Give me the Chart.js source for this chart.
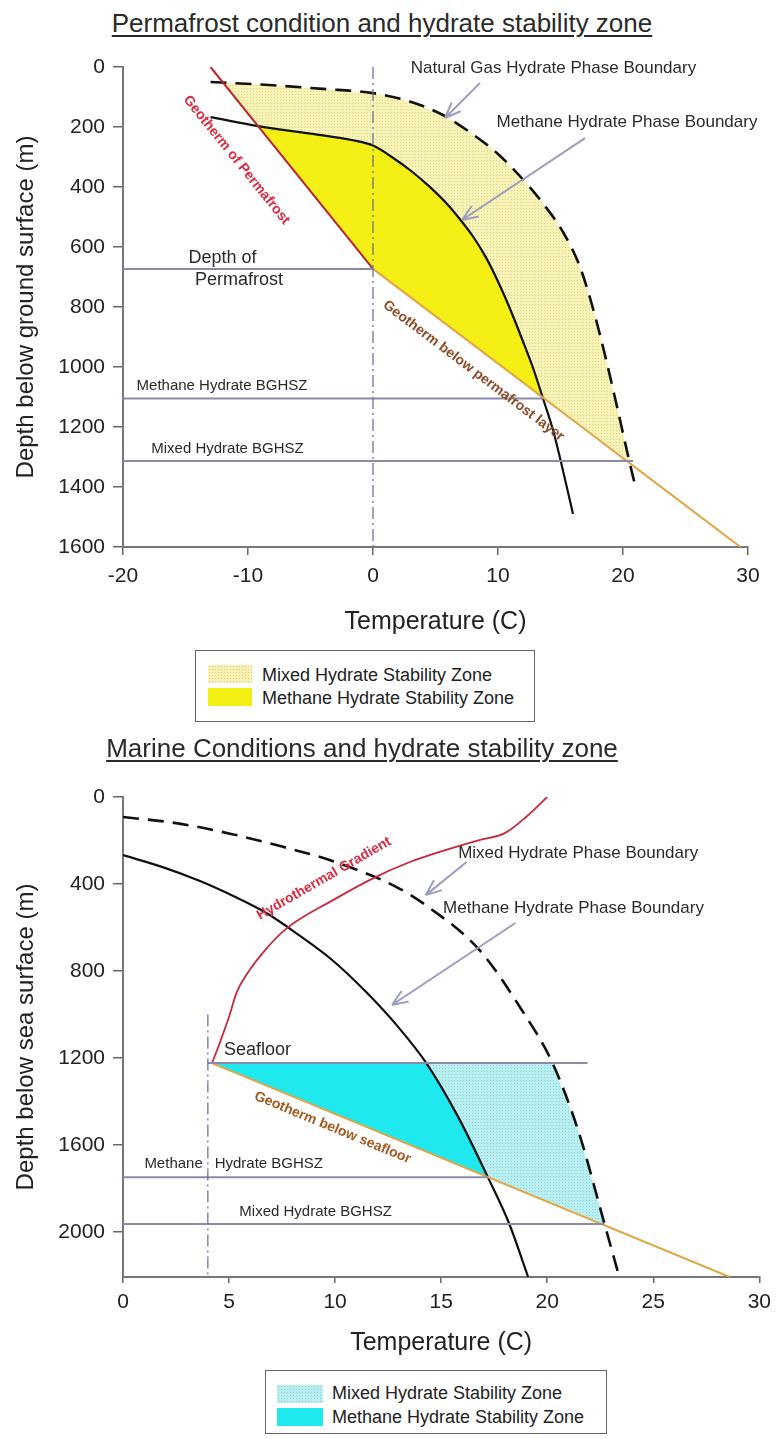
<!DOCTYPE html>
<html>
<head>
<meta charset="utf-8">
<script src="https://cdn.jsdelivr.net/npm/chart.js@4.4.1/dist/chart.umd.min.js"></script>
<style>
  body { margin: 0; background: #fff; font-family: "Liberation Sans", Arial, sans-serif; }
  #wrap { position: relative; width: 778px; height: 1439px; overflow: hidden; }
  canvas { position: absolute; left: 0; }
  .title { position: absolute; width: 600px; text-align: center; font-size: 26px; line-height: 30px;
           color: #2a2a2a; text-decoration: underline; text-underline-offset: 3px; text-decoration-thickness: 1.5px; }
  .legend { position: absolute; box-sizing: border-box; border: 1.5px solid #666; background: #fff; }
  .legend .sw { position: absolute; width: 44px; height: 18px; }
  .legend .lbl { position: absolute; font-size: 18px; line-height: 20px; color: #222; white-space: nowrap; }
  .dots-y { background-color: #f7f1b4; background-image: radial-gradient(#d9cf86 0.7px, transparent 0.9px); background-size: 3px 3px; }
  .solid-y { background: #f3ef12; }
  .dots-c { background-color: #b8eef0; background-image: radial-gradient(#8fd3d6 0.7px, transparent 0.9px); background-size: 3px 3px; }
  .solid-c { background: #1fe9ee; }
</style>
</head>
<body>
<div id="wrap">
  <div class="title" style="left:82px;top:8px">Permafrost condition and hydrate stability zone</div>
  <canvas id="permafrost" width="778" height="740" style="top:0"></canvas>
  <div class="legend" style="left:195px;top:650px;width:340px;height:72px">
    <div class="sw dots-y" style="left:12px;top:14px"></div>
    <div class="lbl" style="left:66px;top:14px">Mixed Hydrate Stability Zone</div>
    <div class="sw solid-y" style="left:12px;top:37px"></div>
    <div class="lbl" style="left:66px;top:37px">Methane Hydrate Stability Zone</div>
  </div>

  <div class="title" style="left:62px;top:733px">Marine Conditions and hydrate stability zone</div>
  <canvas id="marine" width="778" height="699" style="top:740px"></canvas>
  <div class="legend" style="left:265px;top:1370px;width:342px;height:64px">
    <div class="sw dots-c" style="left:11px;top:14px;width:46px"></div>
    <div class="lbl" style="left:66px;top:12px">Mixed Hydrate Stability Zone</div>
    <div class="sw solid-c" style="left:11px;top:37px;width:46px"></div>
    <div class="lbl" style="left:66px;top:36px">Methane Hydrate Stability Zone</div>
  </div>
</div>

<script>
const FONT = '"Liberation Sans", Arial, sans-serif';

// ---- permafrost panel: [temperature C, depth m] ----
const pfXTicks = [-20, -10, 0, 10, 20, 30];
const pfYTicks = [0, 200, 400, 600, 800, 1000, 1200, 1400, 1600];
const pfGasBoundary = [[-13, 50], [-8, 61], [-4, 73], [0, 87], [3, 116], [5.6, 160], [8, 225], [10, 290],
  [12, 375], [13.7, 460], [15.2, 550], [16.5, 660], [17.5, 790], [18.5, 950], [19.4, 1110], [20.5, 1313], [21, 1400]];
const pfMethaneBoundary = [[-13, 167], [-9.2, 197], [-5, 222], [-1.5, 245], [0, 262], [1.5, 300], [3, 345],
  [4.5, 398], [6, 460], [7, 510], [8, 565], [9, 632], [10, 715], [11, 810], [12, 915], [12.9, 1015],
  [13.6, 1105], [14.4, 1210], [15, 1310], [16, 1490]];
const pfPermafrostGeotherm = [[-13, 0], [0, 673]];
const pfDeepGeotherm = [[0, 673], [29.4, 1600]];
const pfPermafrostBase = [[-20, 673], [0, 673]];
const pfMethaneBghsz = [[-20, 1105], [13.6, 1105]];
const pfMixedBghsz = [[-20, 1313], [20.8, 1313]];
const pfZeroLine = [[0, 0], [0, 1600]];
const pfMixedZone = [[-12, 52], ...pfGasBoundary.filter(p => p[1] > 52 && p[1] <= 1313), [0, 673]];
const pfMethaneZone = [...pfMethaneBoundary.filter(p => p[1] >= 197 && p[1] <= 1105), [0, 673]];

// ---- marine panel ----
const mXTicks = [0, 5, 10, 15, 20, 25, 30];
const mYTicks = [0, 400, 800, 1200, 1600, 2000];
const mMixedBoundary = [[0, 92], [2.5, 120], [5.2, 172], [7.5, 228], [9.9, 295], [12.9, 414], [14.4, 506],
  [16.8, 703], [18.8, 979], [20.25, 1223], [21.5, 1545], [22.7, 1962], [23.4, 2206]];
const mMethaneBoundary = [[0, 267], [1.8, 320], [3.6, 385], [5.2, 455], [6.76, 533], [8.3, 635], [9.86, 749],
  [11.5, 900], [13, 1060], [14.3, 1223], [15.8, 1470], [17.2, 1747], [18.2, 1959], [19.1, 2206]];
const mHydrothermal = [[4.2, 1223], [4.6, 1120], [5, 1010], [5.35, 900], [5.8, 820], [6.6, 715], [7.7, 605],
  [9.9, 474], [11.9, 368], [13.5, 300], [15.2, 244], [16.8, 198], [18, 166], [19, 92], [20, 0]];
const mGeotherm = [[4.2, 1223], [28.6, 2206]];
const mSeafloor = [[4, 1223], [21.9, 1223]];
const mMethaneBghsz = [[0, 1747], [17.2, 1747]];
const mMixedBghsz = [[0, 1962], [22.7, 1962]];
const mFourDegLine = [[4, 1000], [4, 2206]];
const mMixedZone = [[4.2, 1223], ...mMixedBoundary.filter(p => p[1] >= 1223 && p[1] <= 1962)];
const mMethaneZone = [[4.2, 1223], ...mMethaneBoundary.filter(p => p[1] >= 1223 && p[1] <= 1747)];

const pts = a => a.map(([x, y]) => ({x, y}));

function dotPattern(base, dot) {
  const c = document.createElement('canvas');
  c.width = 3; c.height = 3;
  const g = c.getContext('2d');
  g.fillStyle = base; g.fillRect(0, 0, 3, 3);
  g.fillStyle = dot; g.fillRect(1, 1, 1, 1);
  return g.createPattern(c, 'repeat');
}

function lineSet(data, color, width, dash, smooth) {
  return {
    data: pts(data), showLine: true, borderColor: color, borderWidth: width, borderDash: dash || [],
    pointRadius: 0, fill: false, order: 1, tension: 0,
    cubicInterpolationMode: smooth ? 'monotone' : 'default'
  };
}

function zoneSet(data, bg, order) {
  return {
    data: pts(data), showLine: true, borderColor: 'rgba(0,0,0,0)', borderWidth: 0,
    backgroundColor: bg, pointRadius: 0, fill: 'shape', order: order, tension: 0
  };
}

const tickFont = {family: FONT, size: 21};

function scaleX(min, max, ticks, tickLen, pad, height, titlePad) {
  return {
    type: 'linear', min, max,
    afterBuildTicks: s => { s.ticks = ticks.map(v => ({value: v})); },
    afterFit: s => { s.height = height; },
    ticks: {font: tickFont, color: '#222', padding: pad, maxRotation: 0, autoSkip: false, callback: v => String(v)},
    grid: {drawOnChartArea: false, drawTicks: true, tickLength: tickLen, color: '#666', lineWidth: 1.5},
    border: {display: true, color: '#777', width: 2},
    title: {display: true, text: 'Temperature (C)', color: '#222', font: {family: FONT, size: 25},
            padding: {top: 0, bottom: titlePad}}
  };
}

function scaleY(max, ticks, title) {
  return {
    type: 'linear', reverse: true, min: 0, max,
    afterBuildTicks: s => { s.ticks = ticks.map(v => ({value: v})); },
    afterFit: s => { s.width = 123; },
    ticks: {font: tickFont, color: '#222', padding: 8, autoSkip: false, callback: v => String(v)},
    grid: {drawOnChartArea: false, drawTicks: true, tickLength: 10, color: '#666', lineWidth: 1.5},
    border: {display: true, color: '#777', width: 2},
    title: {display: true, text: title, color: '#222', font: {family: FONT, size: 24}, padding: {top: 12, bottom: 0}}
  };
}

// text labels and arrows placed in data units, converted by the chart scales
function notesPlugin(notes) {
  return {
    id: 'notes',
    afterDatasetsDraw(chart) {
      const {ctx, scales: {x, y}} = chart;
      const px = p => [x.getPixelForValue(p[0]), y.getPixelForValue(p[1])];
      ctx.save();
      notes.forEach(n => {
        if (n.arrow) {
          const [x1, y1] = px(n.arrow[0]);
          const [x2, y2] = px(n.arrow[1]);
          const a = Math.atan2(y2 - y1, x2 - x1);
          ctx.strokeStyle = '#9c9cc0';
          ctx.lineWidth = 2;
          ctx.beginPath();
          ctx.moveTo(x1, y1); ctx.lineTo(x2, y2);
          [0.38, -0.38].forEach(da => {
            ctx.moveTo(x2, y2);
            ctx.lineTo(x2 - 17 * Math.cos(a + da), y2 - 17 * Math.sin(a + da));
          });
          ctx.stroke();
          return;
        }
        const [tx, ty] = px(n.at);
        let rot = (n.rot || 0) * Math.PI / 180;
        if (n.along) {
          const [ax, ay] = px(n.along[0]);
          const [bx, by] = px(n.along[n.along.length - 1]);
          rot = Math.atan2(by - ay, bx - ax);
        }
        ctx.save();
        ctx.translate(tx, ty);
        ctx.rotate(rot);
        ctx.font = (n.bold ? 'bold ' : '') + (n.size || 15) + 'px ' + FONT;
        ctx.fillStyle = n.color || '#2a2a2a';
        ctx.textAlign = n.align || 'center';
        ctx.textBaseline = 'middle';
        ctx.fillText(n.text, 0, 0);
        ctx.restore();
      });
      ctx.restore();
    }
  };
}

const RED = '#b8262c';
const ORANGE = '#e2a443';
const GREY = '#8a8aaa';
const DASHDOT = [12, 4, 2, 4];

const pfNotes = [
  {text: 'Natural Gas Hydrate Phase Boundary', at: [14.44, 3], size: 17},
  {arrow: [[8.56, 53], [5.76, 170]]},
  {text: 'Methane Hydrate Phase Boundary', at: [20.32, 183], size: 17},
  {arrow: [[16.96, 237], [7.12, 510]]},
  {text: 'Depth of', at: [-12.04, 637], size: 18},
  {text: 'Permafrost', at: [-10.72, 710], size: 18},
  {text: 'Methane Hydrate BGHSZ', at: [-12.08, 1063], size: 15},
  {text: 'Mixed Hydrate BGHSZ', at: [-11.64, 1273], size: 15},
  {text: 'Geotherm of Permafrost', at: [-10.92, 310], size: 14, bold: true, color: '#dc2a40', along: pfPermafrostGeotherm},
  {text: 'Geotherm below permafrost layer', at: [8.04, 1013], size: 14, bold: true, color: '#8e4a25', along: pfDeepGeotherm}
];

const mNotes = [
  {text: 'Hydrothermal Gradient', at: [9.48, 375], size: 14, bold: true, color: '#dc2a40', rot: -30},
  {text: 'Mixed Hydrate Phase Boundary', at: [21.46, 257], size: 17},
  {arrow: [[16.2, 299], [14.27, 451]]},
  {text: 'Methane Hydrate Phase Boundary', at: [21.24, 510], size: 17},
  {arrow: [[18.5, 579], [12.68, 956]]},
  {text: 'Seafloor', at: [6.34, 1163], size: 18},
  {text: 'Geotherm below seafloor', at: [9.88, 1520], size: 14, bold: true, color: '#a55a1e', along: mGeotherm},
  {text: 'Methane', at: [3.76, 1687], size: 15, align: 'right'},
  {text: 'Hydrate BGHSZ', at: [4.32, 1687], size: 15, align: 'left'},
  {text: 'Mixed Hydrate BGHSZ', at: [9.08, 1908], size: 15}
];

const baseOptions = {
  responsive: false,
  animation: false,
  devicePixelRatio: 1,
  plugins: {legend: {display: false}, tooltip: {enabled: false}}
};

new Chart(document.getElementById('permafrost'), {
  type: 'scatter',
  data: {
    datasets: [
      zoneSet(pfMixedZone, dotPattern('#f8f3b6', '#ddd387'), 20),
      zoneSet(pfMethaneZone, '#f4ef14', 19),
      lineSet(pfZeroLine, '#6f7396', 1.3, DASHDOT),
      lineSet(pfPermafrostBase, GREY, 2),
      lineSet(pfMethaneBghsz, GREY, 2),
      lineSet(pfMixedBghsz, GREY, 2),
      lineSet(pfDeepGeotherm, ORANGE, 2),
      lineSet(pfPermafrostGeotherm, RED, 2),
      lineSet(pfMethaneBoundary, '#111', 2.2, null, true),
      lineSet(pfGasBoundary, '#111', 2.6, [16, 9], true)
    ]
  },
  options: {
    ...baseOptions,
    layout: {padding: {left: 0, top: 67, right: 30, bottom: 93}},
    scales: {
      x: scaleX(-20, 30, pfXTicks, 8, 9, 100, 10),
      y: scaleY(1600, pfYTicks, 'Depth below ground surface (m)')
    }
  },
  plugins: [notesPlugin(pfNotes)]
});

new Chart(document.getElementById('marine'), {
  type: 'scatter',
  data: {
    datasets: [
      zoneSet(mMixedZone, dotPattern('#b9eff1', '#8fd4d7'), 20),
      zoneSet(mMethaneZone, '#1fe9ee', 19),
      lineSet(mFourDegLine, '#6f7396', 1.3, DASHDOT),
      lineSet(mSeafloor, GREY, 2),
      lineSet(mMethaneBghsz, GREY, 2),
      lineSet(mMixedBghsz, GREY, 2),
      lineSet(mGeotherm, ORANGE, 2),
      lineSet(mHydrothermal, '#c8283a', 1.8, null, true),
      lineSet(mMethaneBoundary, '#111', 2.2, null, true),
      lineSet(mMixedBoundary, '#111', 2.6, [16, 9], true)
    ]
  },
  options: {
    ...baseOptions,
    layout: {padding: {left: 0, top: 57, right: 16, bottom: 72}},
    scales: {
      x: scaleX(0, 30, mXTicks, 6, 7, 90, 9),
      y: scaleY(2206, mYTicks, 'Depth below sea surface (m)')
    }
  },
  plugins: [notesPlugin(mNotes)]
});
</script>
</body>
</html>
